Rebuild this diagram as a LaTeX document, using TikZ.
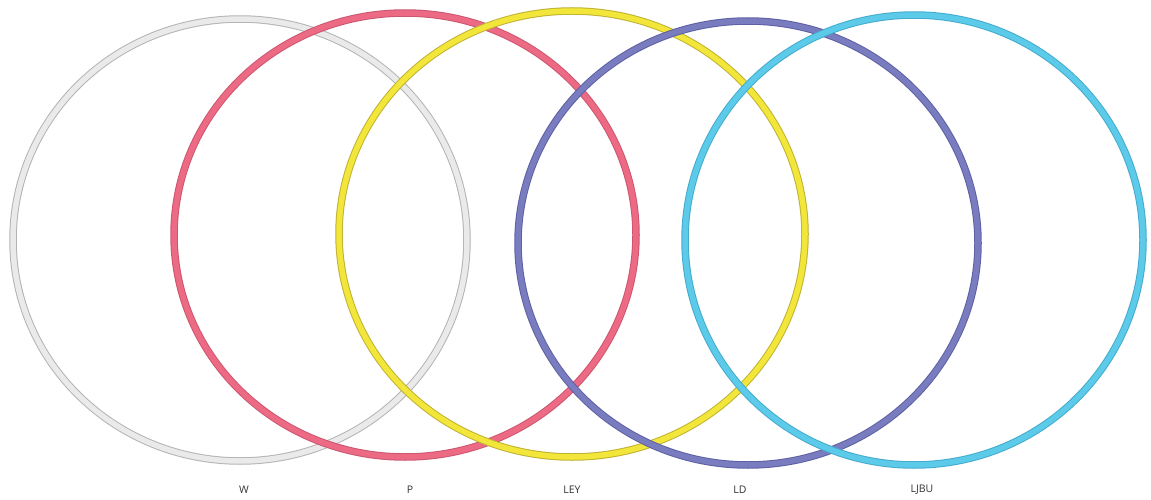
\documentclass[tikz,border=0pt]{standalone}
\usepackage{fontspec}
\setmainfont{Open Sans}

\definecolor{ringW}{HTML}{EAEAEA}
\definecolor{edgeW}{HTML}{B4B4B4}
\definecolor{ringP}{HTML}{EC6A84}
\definecolor{edgeP}{HTML}{CC5670}
\definecolor{ringY}{HTML}{F2E63A}
\definecolor{edgeY}{HTML}{C0B232}
\definecolor{ringL}{HTML}{7A7CC0}
\definecolor{edgeL}{HTML}{5E60A4}
\definecolor{ringC}{HTML}{5CCBEA}
\definecolor{edgeC}{HTML}{45AACC}

\tikzset{
    hoop/.style 2 args={draw=#2, double=#1, double distance=5.5pt, line width=1pt},
    ringlabel/.style={font=\fontsize{10.5}{12}\selectfont, text=black!80}
}

\begin{document}
\begin{tikzpicture}[x=1pt, y=-1pt]
                \useasboundingbox (0, 0) rectangle (1151, 500);
                % Rings, back to front:
                \draw[hoop={ringW}{edgeW}] (240, 240) ellipse [x radius=227, y radius=221];
                \draw[hoop={ringP}{edgeP}] (405, 235) ellipse [x radius=231, y radius=222];
                \draw[hoop={ringY}{edgeY}] (572, 234) ellipse [x radius=233, y radius=223];
                \draw[hoop={ringL}{edgeL}] (748, 243) ellipse [x radius=230, y radius=222];
                \draw[hoop={ringC}{edgeC}] (914, 240) ellipse [x radius=229, y radius=225];
                % Labels:
                \node[ringlabel](W) at (244, 490){W};
                \node[ringlabel](P) at (410, 490){P};
                \node[ringlabel](LEY) at (572, 490){LEY};
                \node[ringlabel](LD) at (740, 490){LD};
                \node[ringlabel](LJBU) at (922, 490){LJBU};
            \end{tikzpicture}
\end{document}
